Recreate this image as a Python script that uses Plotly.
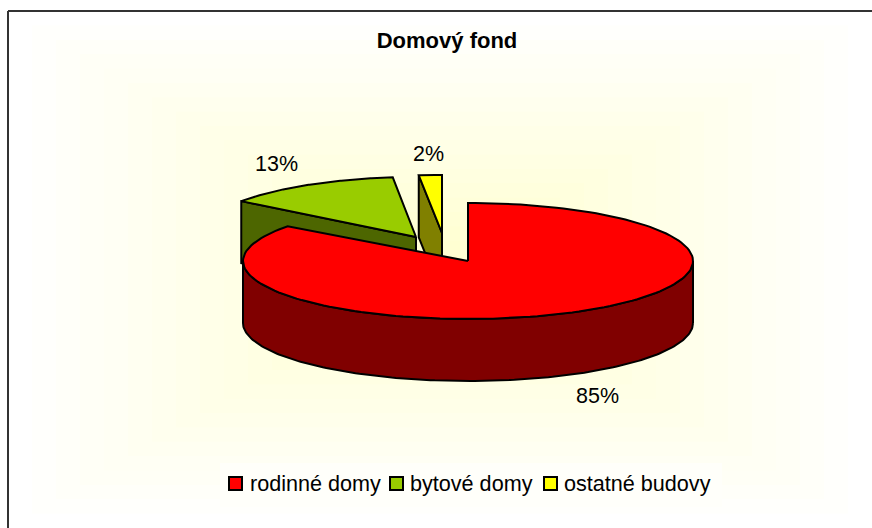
import numpy as np
import plotly.graph_objects as go

title = "Domový fond"
categories = ["rodinné domy", "bytové domy", "ostatné budovy"]
shares = [85.2, 13.1, 1.7]

W, H = 872, 528
top_colors = ["#FF0000", "#99CC00", "#FFFF00"]
wall_colors = ["#800000", "#4D6600", "#808000"]
# pie projection (pixels)
vertex = [(468, 261), (416, 237), (442, 233)]
radii = [(225, 58), (218, 60), (218, 58)]
DEPTH = 62

fractions = np.array(shares) / sum(shares)
edges = np.concatenate([[0], np.cumsum(fractions)]) * 2 * np.pi


def arc(i, a0, a1, n=160):
    t = np.linspace(a0, a1, n)
    cx, cy = vertex[i]
    rx, ry = radii[i]
    return cx + rx * np.sin(t), cy - ry * np.cos(t)


def poly(fig, xs, ys, fill, name, legend=False):
    fig.add_trace(go.Scatter(
        x=list(xs), y=list(ys), mode="lines", fill="toself", fillcolor=fill,
        line=dict(color="#000000", width=2), name=name, showlegend=legend,
        hoverinfo="name",
    ))


def radial_wall(fig, i, angle):
    x, y = arc(i, angle, angle, 1)
    cx, cy = vertex[i]
    xs = [cx, x[0], x[0], cx, cx]
    ys = [cy, y[0], y[0] + DEPTH, cy + DEPTH, cy]
    poly(fig, xs, ys, wall_colors[i], categories[i])


def wedge_top(fig, i):
    x, y = arc(i, edges[i], edges[i + 1])
    cx, cy = vertex[i]
    poly(fig, np.r_[cx, x, cx], np.r_[cy, y, cy], top_colors[i], categories[i])


fig = go.Figure()

# exploded back slices first, then the big front slice
radial_wall(fig, 1, edges[1])
wedge_top(fig, 1)
radial_wall(fig, 2, edges[2])
wedge_top(fig, 2)

x, y = arc(0, np.pi / 2, 3 * np.pi / 2)
poly(fig, np.r_[x, x[::-1], x[0]], np.r_[y + DEPTH, y[::-1], y[0] + DEPTH],
     wall_colors[0], categories[0])
wedge_top(fig, 0)

# rectangular "from centre" gradient background
shapes = []
x0, y0, x1, y1 = 8, 11, W, H
cx, cy = (x0 + x1) / 2, (y0 + y1) / 2
steps = 18
for k in range(steps):
    f = 1 - k / steps
    blue = int(round(255 - (255 - 204) * (1 - f)))
    shapes.append(dict(
        type="rect", layer="below", line_width=0,
        x0=cx - (cx - x0) * f, x1=cx + (x1 - cx) * f,
        y0=cy - (cy - y0) * f, y1=cy + (y1 - cy) * f,
        fillcolor=f"rgb(255,255,{blue})",
    ))
# frame (left and top only are inside the picture)
frame = dict(color="#333333", width=2)
shapes.append(dict(type="line", x0=8, x1=W, y0=11, y1=11, line=frame))
shapes.append(dict(type="line", x0=8, x1=8, y0=11, y1=H, line=frame))
# legend box
shapes.append(dict(type="rect", layer="below", x0=220, x1=722, y0=463, y1=507,
                   line_width=0, fillcolor="#FFFFFA"))

font = "Liberation Sans, Arial, sans-serif"
annotations = []
# percent labels
label_pos = [(597, 396), (276, 164), (428, 154)]
for v, (lx, ly) in zip(shares, label_pos):
    annotations.append(dict(x=lx, y=ly, text=f"{round(v)}%", showarrow=False,
                            font=dict(family=font, size=21.5, color="#000000")))
# legend
swatch_x = [229, 390, 544]
text_x = [247.5, 408, 562]
for i, name in enumerate(categories):
    shapes.append(dict(type="rect", x0=swatch_x[i], x1=swatch_x[i] + 13, y0=477, y1=490,
                       fillcolor=top_colors[i], line=dict(color="#000000", width=2)))
    annotations.append(dict(x=text_x[i], y=483, text=name, showarrow=False, xanchor="left",
                            font=dict(family=font, size=21.6, color="#000000")))

fig.update_layout(
    width=W, height=H, autosize=False,
    margin=dict(l=0, r=0, t=0, b=0),
    paper_bgcolor="#FFFFFF", plot_bgcolor="rgba(0,0,0,0)",
    showlegend=False,
    title=dict(text=f"<b>{title}</b>", x=447 / W, xanchor="center", xref="paper",
               y=1 - 40 / H, yanchor="middle", yref="container",
               font=dict(family=font, size=22, color="#000000")),
    xaxis=dict(range=[0, W], visible=False, fixedrange=True),
    yaxis=dict(range=[H, 0], visible=False, fixedrange=True),
    shapes=shapes, annotations=annotations,
)

fig.write_html("out.html", config={"displayModeBar": False},
               post_script="document.body.style.margin='0';")
